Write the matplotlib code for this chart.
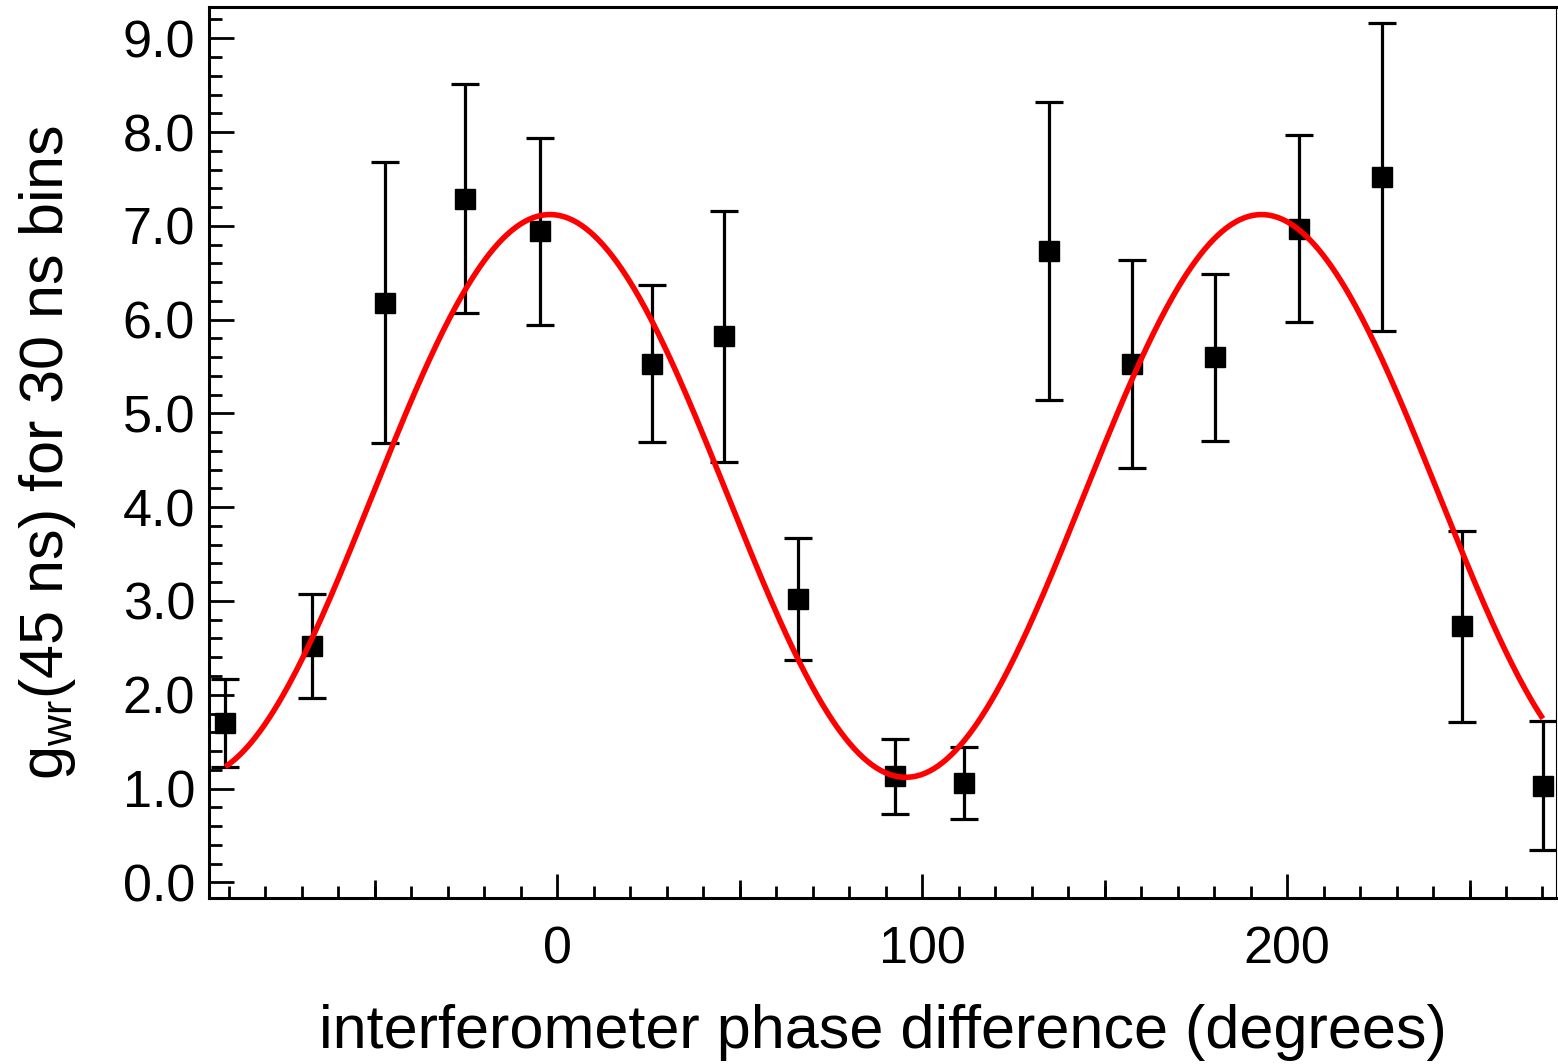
import numpy as np
import matplotlib
matplotlib.use("Agg")
import matplotlib.pyplot as plt
from matplotlib.ticker import MultipleLocator, FixedLocator

plt.rcParams['font.family'] = ['Liberation Sans', 'DejaVu Sans']
plt.rcParams['mathtext.fontset'] = 'custom'
plt.rcParams['mathtext.rm'] = 'Liberation Sans'

# measured correlation versus interferometer phase
phase_deg = [-91.0, -67.3, -47.2, -25.3, -4.7, 25.9, 45.7, 66.0, 92.5,
             111.4, 134.7, 157.6, 180.2, 203.2, 226.1, 247.9, 270.1]
g_wr = [1.70, 2.52, 6.18, 7.29, 6.94, 5.53, 5.82, 3.02, 1.13,
        1.06, 6.73, 5.53, 5.60, 6.97, 7.52, 2.73, 1.03]
g_err = [0.47, 0.55, 1.50, 1.22, 1.00, 0.84, 1.34, 0.65, 0.40,
         0.38, 1.59, 1.11, 0.89, 1.00, 1.64, 1.02, 0.69]

# sinusoidal fit parameters: offset, amplitude, phase of maximum, period (deg)
fit_offset = 4.12
fit_amplitude = 3.00
fit_center = -2.0
fit_period = 195.0

fig = plt.figure(figsize=(15.58, 10.64), dpi=100)
ax = fig.add_axes([209 / 1558, 166 / 1064, (1556 - 209) / 1558, (898 - 7) / 1064])

ax.errorbar(phase_deg, g_wr, yerr=g_err, fmt='s', color='black',
            markersize=14.4, elinewidth=2.3, capsize=10, capthick=2.3,
            zorder=2)

x_fit = np.linspace(min(phase_deg), max(phase_deg), 600)
y_fit = fit_offset + fit_amplitude * np.cos(2 * np.pi * (x_fit - fit_center) / fit_period)
ax.plot(x_fit, y_fit, color='#ff0000', linewidth=4.0, zorder=3,
        solid_capstyle='butt')

ax.set_xlim(-95.46, 273.7)
ax.set_ylim(-0.167, 9.333)

# ticks
ax.xaxis.set_major_locator(FixedLocator([0, 100, 200]))
ax.xaxis.set_minor_locator(MultipleLocator(10))
ax.yaxis.set_major_locator(MultipleLocator(1.0))
ax.yaxis.set_minor_locator(MultipleLocator(0.2))
ax.yaxis.set_major_formatter(matplotlib.ticker.FormatStrFormatter('%.1f'))

ax.tick_params(axis='x', which='major', direction='in', length=24.5 * 0.72,
               width=2.0, labelsize=37.5, pad=20, top=False)
ax.tick_params(axis='x', which='minor', direction='in', length=12.3 * 0.72,
               width=2.0, top=False)
ax.tick_params(axis='y', which='major', direction='in', length=25 * 0.72,
               width=2.0, labelsize=37.5, pad=10, right=False)
ax.tick_params(axis='y', which='minor', direction='in', length=12.7 * 0.72,
               width=2.0, right=False)

# intermediate ticks at odd multiples of 50 degrees
mid = ax.secondary_xaxis('bottom')
mid.set_xticks([-50, 50, 150, 250])
mid.tick_params(axis='x', which='major', direction='in', length=18 * 0.72,
                width=2.0, labelbottom=False)
mid.xaxis.set_minor_locator(matplotlib.ticker.NullLocator())
for s in mid.spines.values():
    s.set_visible(False)

for side in ['left', 'bottom', 'top']:
    ax.spines[side].set_linewidth(2.2)
ax.spines['right'].set_linewidth(0.8)

ax.set_xlabel('interferometer phase difference (degrees)', fontsize=44,
              labelpad=21)
ax.set_ylabel(r'g$_\mathregular{wr}$(45 ns) for 30 ns bins', fontsize=44,
              labelpad=32)

fig.savefig('out.png', dpi=100)
